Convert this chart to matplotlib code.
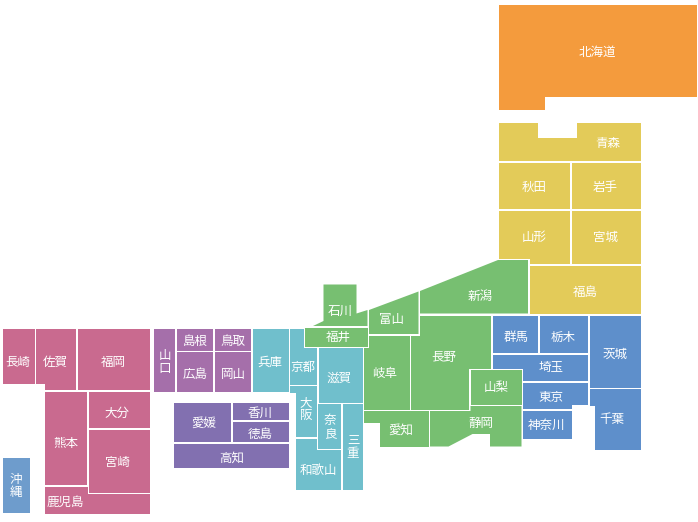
import matplotlib
matplotlib.use("Agg")
import matplotlib.pyplot as plt
from matplotlib.patches import Polygon

plt.rcParams['font.family'] = ['Noto Sans CJK JP', 'DejaVu Sans']

# Region membership (name lists)
hokkaido = ["北海道"]
tohoku = ["青森", "秋田", "岩手", "山形", "宮城", "福島"]
kanto = ["群馬", "栃木", "茨城", "埼玉", "東京", "神奈川", "千葉"]
chubu = ["新潟", "富山", "石川", "福井", "長野", "岐阜", "山梨", "愛知", "静岡"]
kinki = ["兵庫", "京都", "滋賀", "大阪", "奈良", "三重", "和歌山"]
chugoku = ["山口", "島根", "鳥取", "広島", "岡山"]
shikoku = ["愛媛", "香川", "徳島", "高知"]
kyushu = ["長崎", "佐賀", "福岡", "大分", "熊本", "宮崎", "鹿児島"]
okinawa = ["沖縄"]

region_colors = [
    (hokkaido, "#F49B3D"), (tohoku, "#E3CB59"), (kanto, "#5E8FCB"),
    (chubu, "#77BF71"), (kinki, "#70BFCC"), (chugoku, "#A56FAA"),
    (shikoku, "#8270B0"), (kyushu, "#C96A8F"), (okinawa, "#6E9CCC"),
]

# Tile outlines of the map, pixel units of the source map
outlines = {
    "北海道": [(498.5,5),(697,5),(697,97),(545,97),(545,109.5),(498.5,109.5)],
    "青森": [(498.5,122.5),(537.7,122.5),(537.7,138.3),(577.3,138.3),(577.3,122.5),(641,122.5),(641,161),(498.5,161)],
    "秋田": [(498.5,162.5),(570,162.5),(570,209),(498.5,209)],
    "岩手": [(571.5,162.5),(641,162.5),(641,209),(571.5,209)],
    "山形": [(498.5,210.5),(570,210.5),(570,264),(529.5,264),(529.5,259),(498.5,259)],
    "宮城": [(571.5,210.5),(641,210.5),(641,264),(571.5,264)],
    "福島": [(529.5,265.5),(641,265.5),(641,313.5),(529.5,313.5)],
    "新潟": [(420,291),(498,260),(528,260),(528,313.5),(420,313.5)],
    "群馬": [(492.5,315.5),(537.5,315.5),(537.5,352.5),(492.5,352.5)],
    "栃木": [(539.5,315.5),(587.5,315.5),(587.5,352.5),(539.5,352.5)],
    "茨城": [(589.5,315.5),(641,315.5),(641,387.5),(589.5,387.5)],
    "埼玉": [(492.5,354.5),(587.5,354.5),(587.5,381),(523,381),(523,368.5),(492.5,368.5)],
    "東京": [(523,382.5),(587.5,382.5),(587.5,405),(572,405),(572,409),(523,409)],
    "神奈川": [(523,410.5),(572,410.5),(572,439),(523,439)],
    "千葉": [(589.5,389),(641,389),(641,449.5),(595,449.5),(595,405.5),(589.5,405.5)],
    "山梨": [(470.5,370),(521.5,370),(521.5,404.5),(470.5,404.5)],
    "長野": [(420,315.5),(491,315.5),(491,368.5),(468.5,368.5),(468.5,409.5),(411,409.5),(411,335.5),(420,335.5)],
    "富山": [(369,310),(418.5,291.5),(418.5,334),(369,334)],
    "石川": [(323.5,284.5),(356.5,284.5),(356.5,313.5),(367.5,310),(367.5,326),(313,326),(323.5,321)],
    "福井": [(304.5,327.5),(368,327.5),(368,346.5),(304.5,346.5)],
    "岐阜": [(364,347.5),(368.5,347.5),(368.5,335.5),(409.5,335.5),(409.5,409.5),(364,409.5)],
    "愛知": [(364,411),(428.5,411),(428.5,446.5),(379.5,446.5),(379.5,423),(364,423)],
    "静岡": [(430,411),(470.5,411),(470.5,406),(521.5,406),(521.5,446.5),(490,446.5),(490,434),(472.5,434),(448.5,446.5),(430,446.5)],
    "京都": [(290,329),(303.5,329),(303.5,347.5),(316.5,347.5),(316.5,384.5),(290,384.5)],
    "滋賀": [(318.5,347.5),(362.5,347.5),(362.5,402.5),(318.5,402.5)],
    "大阪": [(290,386),(316.5,386),(316.5,437),(296,437),(296,392.5),(290,392.5)],
    "奈良": [(317.5,404),(340.5,404),(340.5,448.5),(317.5,448.5)],
    "三重": [(342.5,404),(362.5,404),(362.5,489.5),(342.5,489.5)],
    "和歌山": [(296,438.5),(316.5,438.5),(316.5,449.5),(340.5,449.5),(340.5,489.5),(296,489.5)],
    "兵庫": [(252.5,329),(288.5,329),(288.5,392),(252.5,392)],
    "山口": [(154,329),(175,329),(175,392),(154,392)],
    "島根": [(177,329),(213,329),(213,350.5),(177,350.5)],
    "鳥取": [(215,329),(250.5,329),(250.5,350.5),(215,350.5)],
    "広島": [(177,352),(213,352),(213,392),(177,392)],
    "岡山": [(215,352),(250.5,352),(250.5,392),(215,392)],
    "愛媛": [(174,403),(231,403),(231,442),(174,442)],
    "香川": [(233,403),(289,403),(289,420),(233,420)],
    "徳島": [(233,422),(289,422),(289,442),(233,442)],
    "高知": [(174,444),(289,444),(289,468),(174,468)],
    "長崎": [(3,329),(34.5,329),(34.5,383.5),(3,383.5)],
    "佐賀": [(36,329),(76,329),(76,390),(44.5,390),(44.5,383.5),(36,383.5)],
    "福岡": [(77.5,329),(150,329),(150,390),(77.5,390)],
    "大分": [(89,391.5),(150,391.5),(150,428),(89,428)],
    "熊本": [(44.5,391.5),(87,391.5),(87,485),(44.5,485)],
    "宮崎": [(89,430),(150,430),(150,492.5),(89,492.5)],
    "鹿児島": [(44.5,487),(88,487),(88,494),(150,494),(150,514),(44.5,514)],
    "沖縄": [(3,458),(30,458),(30,513),(3,513)],
}

label_pos = {
    "北海道": (597,52), "青森": (608,143), "秋田": (534,187), "岩手": (605,187),
    "山形": (534,237), "宮城": (605,237), "福島": (585,292), "新潟": (480,296),
    "群馬": (516,337), "栃木": (563,337), "茨城": (615,354), "埼玉": (551,368),
    "東京": (551,397), "神奈川": (547,425), "千葉": (612,419), "山梨": (496,388),
    "長野": (444,357), "富山": (392,320), "石川": (340,311), "福井": (338,337),
    "岐阜": (385,373), "愛知": (401,430), "静岡": (481,423), "京都": (303,367),
    "滋賀": (339,378), "大阪": (306,409), "奈良": (330,427), "三重": (353,447),
    "和歌山": (318,470), "兵庫": (270,362), "山口": (165,362), "島根": (195,341),
    "鳥取": (233,341), "広島": (195,374), "岡山": (233,374), "愛媛": (204,423),
    "香川": (260,413), "徳島": (260,434), "高知": (232,458), "長崎": (18,362),
    "佐賀": (55,362), "福岡": (113,362), "大分": (117,413), "熊本": (66,443),
    "宮崎": (117,462), "鹿児島": (65,502), "沖縄": (16,486),
}
vertical_names = ["山口", "沖縄", "大阪", "奈良", "三重"]

fig = plt.figure(figsize=(6.98, 5.22), dpi=100)
ax = fig.add_axes([0, 0, 1, 1])
ax.set_xlim(0, 698)
ax.set_ylim(522, 0)
ax.axis("off")

for names, color in region_colors:
    for name in names:
        ax.add_patch(Polygon(outlines[name], closed=True, facecolor=color, edgecolor="none"))
        x, y = label_pos[name]
        label = "\n".join(name) if name in vertical_names else name
        ax.text(x, y, label, color="white", fontsize=9, ha="center", va="center",
                linespacing=1.05)

fig.savefig("out.png", dpi=100)
